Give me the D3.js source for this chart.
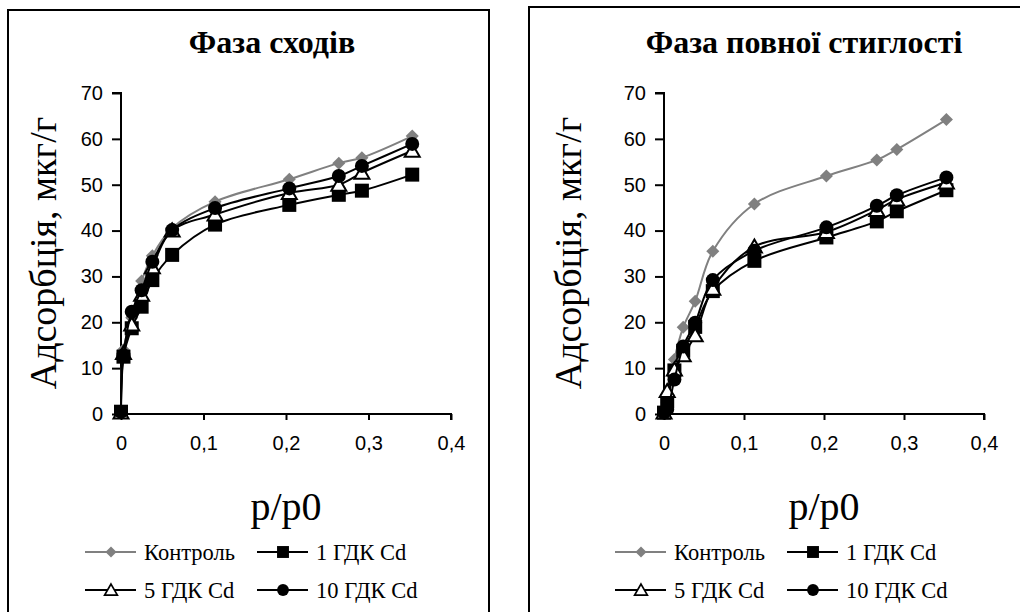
<!DOCTYPE html>
<html>
<head>
<meta charset="utf-8">
<script src="https://cdn.jsdelivr.net/npm/d3@7"></script>
<style>
  body { margin: 0; background: #fff; }
  svg { display: block; }
</style>
</head>
<body>
<div id="chart"></div>
<script>
// series names and tick labels
const seriesNames = ["Контроль", "1 ГДК Cd", "5 ГДК Cd", "10 ГДК Cd"];
const xTicks = [0, 0.1, 0.2, 0.3, 0.4];
const yTicks = [0, 10, 20, 30, 40, 50, 60, 70];

// Фаза сходів
const xSprout = [0, 0.003, 0.013, 0.025, 0.038, 0.062, 0.114, 0.204, 0.264, 0.292, 0.353];
const sproutControl = [0.5, 14, 21, 29, 34.5, 40.5, 46.3, 51.2, 54.7, 55.9, 60.6];
const sprout1 = [0.5, 12.5, 18.7, 23.4, 29.2, 34.7, 41.3, 45.6, 47.8, 48.7, 52.2];
const sprout5 = [0.3, 13.3, 19.5, 26, 32, 40, 43.5, 48.2, 50, 52.6, 57.4];
const sprout10 = [0.5, 12.8, 22.3, 27, 33.2, 40.1, 44.9, 49.2, 51.9, 54.1, 58.9];

// Фаза повної стиглості
const xRipe = [0, 0.004, 0.013, 0.024, 0.039, 0.061, 0.113, 0.203, 0.266, 0.291, 0.353];
const ripeControl = [0.5, 2.5, 11.9, 18.9, 24.6, 35.5, 45.8, 51.9, 55.4, 57.7, 64.2];
const ripe1 = [0.3, 2.8, 9.5, 13.8, 19, 26.8, 33.4, 38.5, 42, 44.2, 48.8];
const ripe5 = [0.3, 5, 9.7, 12.8, 17.2, 27.3, 36.5, 39.7, 44.5, 46.8, 50.5];
const ripe10 = [0.3, 1, 7.5, 14.7, 19.9, 29.2, 35.6, 40.7, 45.4, 47.7, 51.6];

const width = 1020;
const height = 612;
const SERIF = "Liberation Serif";
const SANS = "Liberation Sans";

const svg = d3
  .select("#chart")
  .append("svg")
  .attr("width", width)
  .attr("height", height);

// marker + line look for each series
const styles = [
  { color: "#808080", marker: "diamond" },
  { color: "#000", marker: "square" },
  { color: "#000", marker: "triangle" },
  { color: "#000", marker: "circle" },
];

function drawMarker(g, type, color, x, y) {
  if (type === "diamond") {
    g.append("path")
      .attr("d", d3.symbol().type(d3.symbolSquare).size(85)())
      .attr("transform", `translate(${x},${y}) rotate(45)`)
      .attr("fill", color);
  } else if (type === "square") {
    g.append("rect")
      .attr("x", x - 7)
      .attr("y", y - 7)
      .attr("width", 14)
      .attr("height", 14)
      .attr("fill", "#000");
  } else if (type === "triangle") {
    g.append("path")
      .attr("d", `M${x},${y - 7}L${x + 7.5},${y + 6}L${x - 7.5},${y + 6}Z`)
      .attr("fill", "#fff")
      .attr("stroke", "#000")
      .attr("stroke-width", 2);
  } else {
    g.append("circle")
      .attr("cx", x)
      .attr("cy", y)
      .attr("r", 7)
      .attr("fill", "#000");
  }
}

function drawPanel(cfg) {
  const g = svg.append("g");

  // frame
  g.append("rect")
    .attr("x", cfg.frame[0])
    .attr("y", cfg.frame[1])
    .attr("width", cfg.frame[2])
    .attr("height", cfg.frame[3])
    .attr("fill", "none")
    .attr("stroke", "#000")
    .attr("stroke-width", 2);

  const x = d3.scaleLinear().domain([0, 0.4]).range([cfg.x0, cfg.x1]);
  const y = d3.scaleLinear().domain([0, 70]).range([414, 93]);

  const fmt = (d) => String(d).replace(".", ",");

  const xAxis = g
    .append("g")
    .attr("transform", "translate(0,414)")
    .call(d3.axisBottom(x).tickValues(xTicks).tickFormat(fmt).tickSize(6).tickPadding(16));
  const yAxis = g
    .append("g")
    .attr("transform", `translate(${cfg.x0},0)`)
    .call(d3.axisLeft(y).tickValues(yTicks).tickSize(9).tickPadding(9));

  [xAxis, yAxis].forEach((a) => {
    a.attr("font-family", SANS).attr("font-size", 20);
    a.select(".domain").attr("stroke", "#000").attr("stroke-width", 2);
    a.selectAll(".tick line").attr("stroke", "#000").attr("stroke-width", 2);
    a.selectAll(".tick text").attr("fill", "#000");
  });
  // excel style: axis ends exactly at 0 / 0.4, 70
  xAxis.select(".domain").attr("d", `M${cfg.x0},0H${cfg.x1}V6`);
  yAxis.select(".domain").attr("d", `M-9,${y(70)}H0V414`);

  // title
  g.append("text")
    .attr("x", cfg.titleX)
    .attr("y", 53)
    .attr("text-anchor", "middle")
    .attr("font-family", SERIF)
    .attr("font-weight", "bold")
    .attr("font-size", 32)
    .text(cfg.title);

  // axis titles
  g.append("text")
    .attr("transform", `translate(${cfg.yTitleX},253) rotate(-90)`)
    .attr("text-anchor", "middle")
    .attr("dy", "0.35em")
    .attr("font-family", SERIF)
    .attr("font-size", 38)
    .text("Адсорбція, мкг/г");

  g.append("text")
    .attr("x", (cfg.x0 + cfg.x1) / 2)
    .attr("y", 520)
    .attr("text-anchor", "middle")
    .attr("font-family", SERIF)
    .attr("font-size", 40)
    .text("p/p0");

  // series
  const line = d3
    .line()
    .x((d) => x(d[0]))
    .y((d) => y(d[1]))
    .curve(d3.curveCatmullRom.alpha(0.5));

  cfg.series.forEach((vals, i) => {
    const pts = cfg.xs.map((v, j) => [v, vals[j]]);
    const st = styles[i];
    g.append("path")
      .datum(pts)
      .attr("d", line)
      .attr("fill", "none")
      .attr("stroke", st.color)
      .attr("stroke-width", 2);
    const mg = g.append("g");
    pts.forEach((p) => drawMarker(mg, st.marker, st.color, x(p[0]), y(p[1])));
  });

  // legend
  const cols = [cfg.legendX, cfg.legendX + cfg.legendCol];
  seriesNames.forEach((name, i) => {
    const lx = cols[i % 2];
    const ly = i < 2 ? 552 : 590;
    const st = styles[i];
    const lg = g.append("g");
    lg.append("line")
      .attr("x1", lx)
      .attr("x2", lx + 51)
      .attr("y1", ly)
      .attr("y2", ly)
      .attr("stroke", st.color)
      .attr("stroke-width", 2);
    const m = lg.append("g").attr("transform", `translate(${lx + 26},${ly}) scale(0.85)`);
    drawMarker(m, st.marker, st.color, 0, 0);
    lg.append("text")
      .attr("x", lx + 59)
      .attr("y", ly)
      .attr("dy", "0.35em")
      .attr("font-family", SERIF)
      .attr("font-size", 22.5)
      .text(name);
  });
}

drawPanel({
  frame: [8, 10, 481, 640],
  x0: 121,
  x1: 451,
  title: "Фаза сходів",
  titleX: 272,
  yTitleX: 43,
  xs: xSprout,
  series: [sproutControl, sprout1, sprout5, sprout10],
  legendX: 85,
  legendCol: 172,
});

drawPanel({
  frame: [529, 7, 520, 640],
  x0: 664,
  x1: 984,
  title: "Фаза повної стиглості",
  titleX: 804,
  yTitleX: 568,
  xs: xRipe,
  series: [ripeControl, ripe1, ripe5, ripe10],
  legendX: 615,
  legendCol: 172,
});
</script>
</body>
</html>
